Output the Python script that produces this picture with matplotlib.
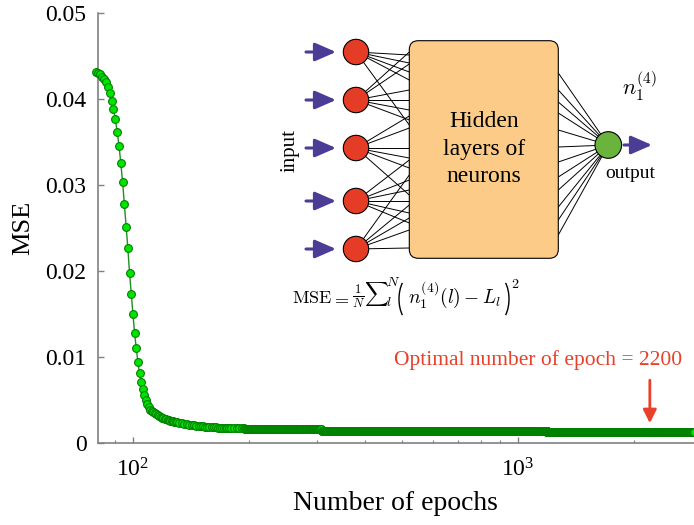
import matplotlib
matplotlib.use('Agg')
import matplotlib.pyplot as plt
import numpy as np
from matplotlib.patches import Arc, Circle, FancyBboxPatch
from matplotlib.ticker import FixedLocator, FuncFormatter, LogLocator, NullFormatter

# --- data ---
# steep part of the training curve
epochs = [80, 81, 82, 83, 84, 85, 86, 87, 88, 89,
          90, 91, 92, 93, 94, 95, 96, 97, 98, 99,
          100, 101, 102, 103, 104, 105, 106, 107, 108, 109,
          110, 111, 112, 113, 114, 115, 116, 117, 118, 119,
          120, 121, 122, 123, 124, 125, 126, 127, 128, 129,
          130, 132, 134, 136, 138, 140, 142, 144, 146, 148,
          150, 152, 154, 156, 158, 160, 162, 164, 166, 168,
          170, 172, 174, 176, 178, 180, 183, 186, 189, 192, 194]
mse = [0.04317, 0.04306, 0.04291, 0.04259, 0.04229, 0.04194, 0.04136, 0.04073, 0.03980, 0.03880,
       0.03764, 0.03620, 0.03457, 0.03252, 0.03035, 0.02776, 0.02515, 0.02264, 0.01973, 0.01733,
       0.01500, 0.01276, 0.01101, 0.00945, 0.00810, 0.00712, 0.00628, 0.00558, 0.00500, 0.00453,
       0.00415, 0.00388, 0.00374, 0.00360, 0.00346, 0.00333, 0.00322, 0.00312, 0.00303, 0.00295,
       0.00288, 0.00282, 0.00276, 0.00270, 0.00265, 0.00260, 0.00255, 0.00251, 0.00247, 0.00243,
       0.00240, 0.00234, 0.00228, 0.00223, 0.00218, 0.00214, 0.00210, 0.00206, 0.00203, 0.00200,
       0.00196, 0.00193, 0.00191, 0.00188, 0.00186, 0.00184, 0.00182, 0.00181, 0.00180, 0.00179,
       0.00178, 0.00178, 0.00177, 0.00177, 0.00177, 0.00177, 0.00176, 0.00176, 0.00176, 0.00175, 0.00175]

# flat tail: MSE recorded every epoch, sitting on three plateaus
plateau_start = [195, 309, 1190]
plateau_end = [308, 1189, 2870]
plateau_mse = [0.00158, 0.00142, 0.00130]

optimal_epoch = 2200
y_ticks = [0, 0.01, 0.02, 0.03, 0.04, 0.05]

# --- style ---
plt.rcParams.update({
    'font.family': ['Liberation Serif'],
    'mathtext.fontset': 'stix', 'font.size': 16,
})
RED = '#e8402a'
BLUE = '#4b3c96'
GRAY = '#808080'

fig = plt.figure(figsize=(6.94, 5.25), dpi=100)
ax = fig.add_axes([97.5 / 694, 82 / 525, 1 - 97.5 / 694, 430 / 525])

x_all = list(epochs)
y_all = list(mse)
for s, e, level in zip(plateau_start, plateau_end, plateau_mse):
    run = list(range(s, e + 1))
    x_all += run
    y_all += [level] * len(run)

ax.plot(x_all, y_all, '-', color='#1f8f1f', lw=1.0, marker='o', ms=5.6,
        mfc='#00e400', mec='#008000', mew=0.8, clip_on=False, zorder=3)

ax.set_xscale('log')
ax.set_xlim(80.9, 2865)
ax.set_ylim(0, 0.05)
ax.yaxis.set_major_locator(FixedLocator(y_ticks))
ax.yaxis.set_major_formatter(FuncFormatter(lambda v, _: '0' if v == 0 else f'{v:.2f}'))
ax.xaxis.set_major_locator(LogLocator(base=10))
ax.xaxis.set_minor_locator(LogLocator(base=10, subs=np.arange(2, 10)))
ax.xaxis.set_minor_formatter(NullFormatter())

for side in ('top', 'right'):
    ax.spines[side].set_visible(False)
for side in ('left', 'bottom'):
    ax.spines[side].set_color(GRAY)
    ax.spines[side].set_linewidth(1.2)
ax.tick_params(which='major', direction='in', length=4.3, width=1, color=GRAY, labelsize=17)
ax.tick_params(which='minor', direction='in', length=2.2, width=0.8, color=GRAY)
ax.tick_params(axis='y', pad=8)
ax.tick_params(axis='x', pad=11)

ax.set_xlabel('Number of epochs', fontsize=20, labelpad=7)
ax.set_ylabel('MSE', fontsize=19, labelpad=8)

# annotation for the optimum
ax.text(1130, 0.0097, f'Optimal number of epoch = {optimal_epoch}', color=RED,
        fontsize=15.5, ha='center', va='center')
ax.annotate('', xy=(optimal_epoch, 0.0023), xytext=(optimal_epoch, 0.0073),
            arrowprops=dict(arrowstyle='-|>', color=RED, lw=2, mutation_scale=20,
                            shrinkA=0, shrinkB=0))

# --- network sketch in pixel coordinates ---
ov = fig.add_axes([0, 0, 1, 1])
ov.set_xlim(0, 694); ov.set_ylim(525, 0); ov.axis('off')

in_y = [52, 100, 148, 201, 249]
in_x = 356
box_l, box_r, box_t, box_b = 409.3, 558.3, 40.7, 258.3
out_x, out_y = 608.3, 145

links = [[55, 63, 72, 80, 125],
         [52, 64, 90, 100, 110, 120],
         [116, 128, 148, 158, 168, 195],
         [160, 180, 190, 201, 213, 223],
         [175, 205, 218, 230, 248]]
for y0, targets in zip(in_y, links):
    for t in targets:
        ov.plot([in_x, box_l], [y0, t], color='black', lw=0.7, zorder=2)

out_links = [73, 90, 102, 113, 130, 147, 162, 177, 190, 207, 220, 235]
for t in out_links:
    ov.plot([box_r, out_x], [t, out_y], color='black', lw=0.7, zorder=2)

box = FancyBboxPatch((box_l, box_t), box_r - box_l, box_b - box_t,
                     boxstyle='round,pad=0,rounding_size=9',
                     fc='#fbcb87', ec='black', lw=0.8, zorder=3)
ov.add_patch(box)
ov.text((box_l + box_r) / 2, 149, 'Hidden\nlayers of\nneurons', fontsize=17,
        ha='center', va='center', linespacing=1.4, zorder=4)

for y0 in in_y:
    ov.add_patch(Circle((in_x, y0), 12.7, fc='#e53c26', ec='black', lw=0.8, zorder=4))
    ov.annotate('', xy=(336, y0), xytext=(306, y0),
                arrowprops=dict(arrowstyle='-|>,head_length=0.8,head_width=0.35',
                                color=BLUE, lw=2.2, mutation_scale=16,
                                shrinkA=0, shrinkB=0), zorder=4)
ov.add_patch(Circle((out_x, out_y), 13.3, fc='#6ab43e', ec='black', lw=0.8, zorder=4))
ov.annotate('', xy=(652, out_y), xytext=(624, out_y),
            arrowprops=dict(arrowstyle='-|>,head_length=0.8,head_width=0.35',
                            color=BLUE, lw=2.2, mutation_scale=16,
                            shrinkA=0, shrinkB=0), zorder=4)

ov.text(290, 150, 'input', rotation=90, fontsize=15, ha='center', va='center')
ov.text(630, 173, 'output', fontsize=14, ha='center', va='center')
ov.text(640, 86, r'$n_1^{(4)}$', fontsize=16, ha='center', va='center', math_fontfamily='cm')

# formula, assembled piece by piece so the sum and brackets come out large
base = 303
ov.text(292, base, r'$\mathrm{MSE}$', fontsize=13, ha='left', va='baseline', math_fontfamily='cm')
ov.text(331, base, r'$=$', fontsize=13, ha='left', va='baseline', math_fontfamily='cm')
ov.text(352, 296, r'$\frac{1}{N}$', fontsize=13, ha='left', va='center', math_fontfamily='cm')
ov.text(364, 294, r'$\sum$', fontsize=12, ha='left', va='center', math_fontfamily='cm')
ov.text(386, 282, r'$N$', fontsize=10, ha='left', va='center', math_fontfamily='cm')
ov.text(386, 302, r'$l$', fontsize=10, ha='left', va='center', math_fontfamily='cm')
ov.add_patch(Arc((411, 299), 24, 46, theta1=118, theta2=242, color='black', lw=1.0))
ov.text(408, base, r'$n_1^{(4)}(l)-L_l$', fontsize=14, ha='left', va='baseline',
        math_fontfamily='cm')
ov.add_patch(Arc((497, 299), 24, 46, theta1=-62, theta2=62, color='black', lw=1.0))
ov.text(511, 284, r'$2$', fontsize=10, ha='left', va='center', math_fontfamily='cm')

fig.savefig('out.png', dpi=100)
